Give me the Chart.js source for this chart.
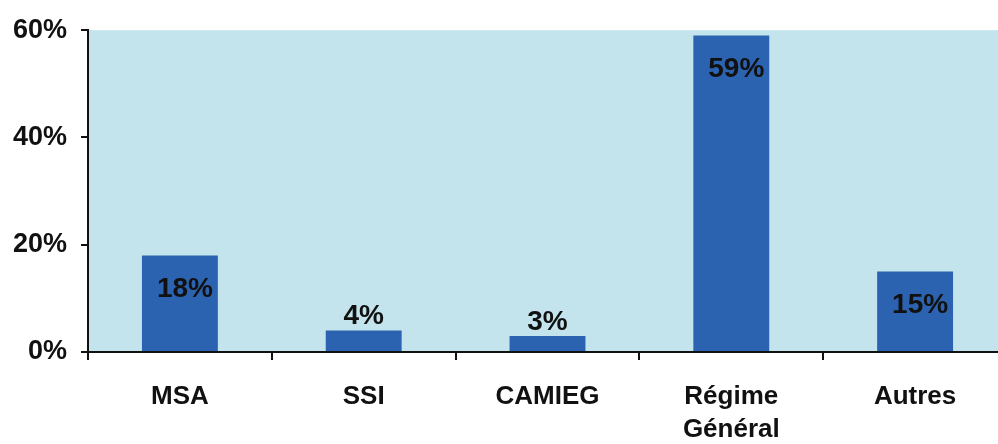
<!DOCTYPE html>
<html>
<head>
<meta charset="utf-8">
<script src="https://cdn.jsdelivr.net/npm/chart.js@4/dist/chart.umd.min.js"></script>
<style>
  html, body { margin: 0; padding: 0; background: #fff; overflow: hidden; }
  #wrap { width: 1010px; height: 444px; }
</style>
</head>
<body>
<div id="wrap"><canvas id="chart" width="1010" height="444"></canvas></div>
<script>
// Share by regime
const categories = ["MSA", "SSI", "CAMIEG", ["Régime", "Général"], "Autres"];
const shares = [18, 4, 3, 59, 15];
const yTicks = [0, 20, 40, 60];

const FONT = "'Liberation Sans', Arial, sans-serif";
const BAR_COLOR = "#2C63B1";
const PLOT_BG = "#C3E4EC";
const INK = "#111111";

// light blue plot background
const plotBg = {
  id: "plotBg",
  beforeDraw(chart) {
    const { ctx, chartArea: a } = chart;
    ctx.save();
    ctx.fillStyle = PLOT_BG;
    ctx.fillRect(a.left, a.top, a.right - a.left, a.bottom - a.top);
    ctx.restore();
  },
};

// value labels: inside the tall bars, above the short ones
const valueLabels = {
  id: "valueLabels",
  afterDatasetsDraw(chart) {
    const { ctx } = chart;
    const meta = chart.getDatasetMeta(0);
    ctx.save();
    ctx.font = "bold 28px " + FONT;
    ctx.fillStyle = INK;
    ctx.textAlign = "center";
    ctx.textBaseline = "middle";
    meta.data.forEach((bar, i) => {
      const v = shares[i];
      const y = v >= 10 ? bar.y + 34 : bar.y - 14;
      const x = v >= 10 ? bar.x + 5 : bar.x;
      ctx.fillText(v + "%", x, y);
    });
    ctx.restore();
  },
};

new Chart(document.getElementById("chart"), {
  type: "bar",
  data: {
    labels: categories,
    datasets: [{
      data: shares,
      backgroundColor: BAR_COLOR,
      borderWidth: 0,
      categoryPercentage: 1,
      barPercentage: 0.413,
    }],
  },
  options: {
    responsive: false,
    animation: false,
    layout: { padding: { top: 30, right: 3, left: 0, bottom: 0 } },
    plugins: {
      legend: { display: false },
      tooltip: { enabled: false },
    },
    scales: {
      x: {
        offset: true,
        grid: {
          offset: true,
          drawOnChartArea: false,
          drawTicks: true,
          tickLength: 8,
          color: INK,
          lineWidth: 2,
        },
        border: { color: INK, width: 2 },
        ticks: {
          color: INK,
          padding: 20,
          maxRotation: 0,
          autoSkip: false,
          font: { family: FONT, size: 26, weight: "bold", lineHeight: 1.27 },
        },
        afterFit(scale) { scale.height = 92; },
      },
      y: {
        min: 0,
        max: 60,
        afterBuildTicks(scale) { scale.ticks = yTicks.map((v) => ({ value: v })); },
        grid: {
          drawOnChartArea: false,
          drawTicks: true,
          tickLength: 7,
          color: INK,
          lineWidth: 2,
        },
        border: { color: INK, width: 2 },
        ticks: {
          color: INK,
          padding: 14,
          callback: (v) => v + "%",
          font: { family: FONT, size: 27, weight: "bold" },
        },
        afterFit(scale) { scale.width = 88; },
      },
    },
  },
  plugins: [plotBg, valueLabels],
});
</script>
</body>
</html>
